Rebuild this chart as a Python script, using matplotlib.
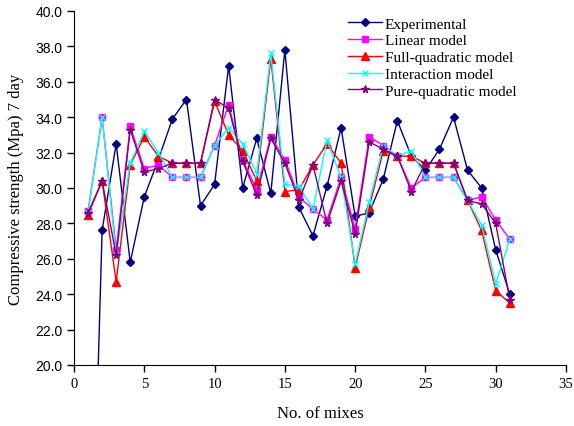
import matplotlib
matplotlib.use("Agg")
import matplotlib.pyplot as plt
from matplotlib.ticker import FormatStrFormatter

mixes = list(range(1, 32))

experimental = [0.0, 27.6, 32.5, 25.8, 29.5, 31.6, 33.9, 35.0, 29.0, 30.2, 36.9,
                30.0, 32.8, 29.7, 37.8, 28.9, 27.3, 30.1, 33.4, 28.4, 28.6,
                30.5, 33.8, 31.8, 31.0, 32.2, 34.0, 31.0, 30.0, 26.5, 24.0]
linear = [28.7, 34.0, 26.5, 33.5, 31.1, 31.3, 30.6, 30.6, 30.6, 32.4, 34.7,
          31.6, 29.9, 32.9, 31.6, 29.5, 28.8, 28.2, 30.6, 27.7, 32.9,
          32.4, 31.8, 30.0, 30.6, 30.6, 30.6, 29.3, 29.5, 28.2, 27.1]
full_quad = [28.5, 30.4, 24.7, 31.3, 32.9, 31.8, 31.4, 31.4, 31.4, 34.9, 33.0,
             32.1, 30.4, 37.3, 29.8, 29.9, 31.3, 32.5, 31.4, 25.5, 28.9,
             32.1, 31.8, 31.8, 31.4, 31.4, 31.4, 29.3, 27.6, 24.2, 23.5]
interaction = [28.6, 34.0, 26.2, 31.4, 33.2, 32.0, 30.6, 30.6, 30.6, 32.4, 33.4,
               32.5, 30.8, 37.6, 30.2, 30.1, 28.8, 32.7, 30.6, 25.7, 29.2,
               32.4, 31.8, 32.1, 30.6, 30.6, 30.6, 29.3, 27.9, 24.6, 27.1]
pure_quad = [28.6, 30.4, 26.2, 33.3, 30.9, 31.1, 31.4, 31.4, 31.4, 35.0, 34.5,
             31.5, 29.6, 32.8, 31.4, 29.3, 31.3, 28.0, 30.4, 27.4, 32.6,
             32.2, 31.8, 29.8, 31.4, 31.4, 31.4, 29.3, 29.1, 28.0, 23.7]

series = [
    ("Experimental", experimental, "#000080", "D", 4.5),
    ("Linear model", linear, "#FF00FF", "s", 5),
    ("Full-quadratic model", full_quad, "#FF0000", "^", 6),
    ("Interaction model", interaction, "#00FFFF", "x", 5),
    ("Pure-quadratic model", pure_quad, "#800080", "*", 5.5),
]

serif = "Liberation Serif"

fig = plt.figure(figsize=(5.74, 4.27), dpi=100)
ax = fig.add_axes([74 / 574, 1 - 366 / 427, 492 / 574, 354 / 427])

for label, vals, color, marker, ms in series:
    ax.plot(mixes, vals, color=color, marker=marker, markersize=ms,
            linewidth=1.0, markeredgewidth=1.0, label=label)

ax.set_xlim(0, 35)
ax.set_ylim(20, 40)
ax.set_xticks(range(0, 36, 5))
ax.set_yticks([20 + 2 * i for i in range(11)])
ax.yaxis.set_major_formatter(FormatStrFormatter("%.1f"))

for side in ("top", "right"):
    ax.spines[side].set_visible(False)
ax.tick_params(direction="out", length=5, width=1)

for t in ax.get_xticklabels():
    t.set_fontfamily(serif)
    t.set_fontsize(10.5)
for t in ax.get_yticklabels():
    t.set_fontfamily("Liberation Sans")
    t.set_fontsize(10)

ax.set_xlabel("No. of mixes", fontfamily=serif, fontsize=12, labelpad=11)
ax.set_ylabel("Compressive strength (Mpa) 7 day", fontfamily=serif, fontsize=12, labelpad=8)

ax.legend(loc="upper left", bbox_to_anchor=(348 / 574, 1 - 18 / 427),
          bbox_transform=fig.transFigure, frameon=False,
          prop={"family": serif, "size": 11}, handlelength=2.2,
          handletextpad=0.2, labelspacing=0.2, borderpad=0, borderaxespad=0)

fig.savefig("out.png", dpi=100)
